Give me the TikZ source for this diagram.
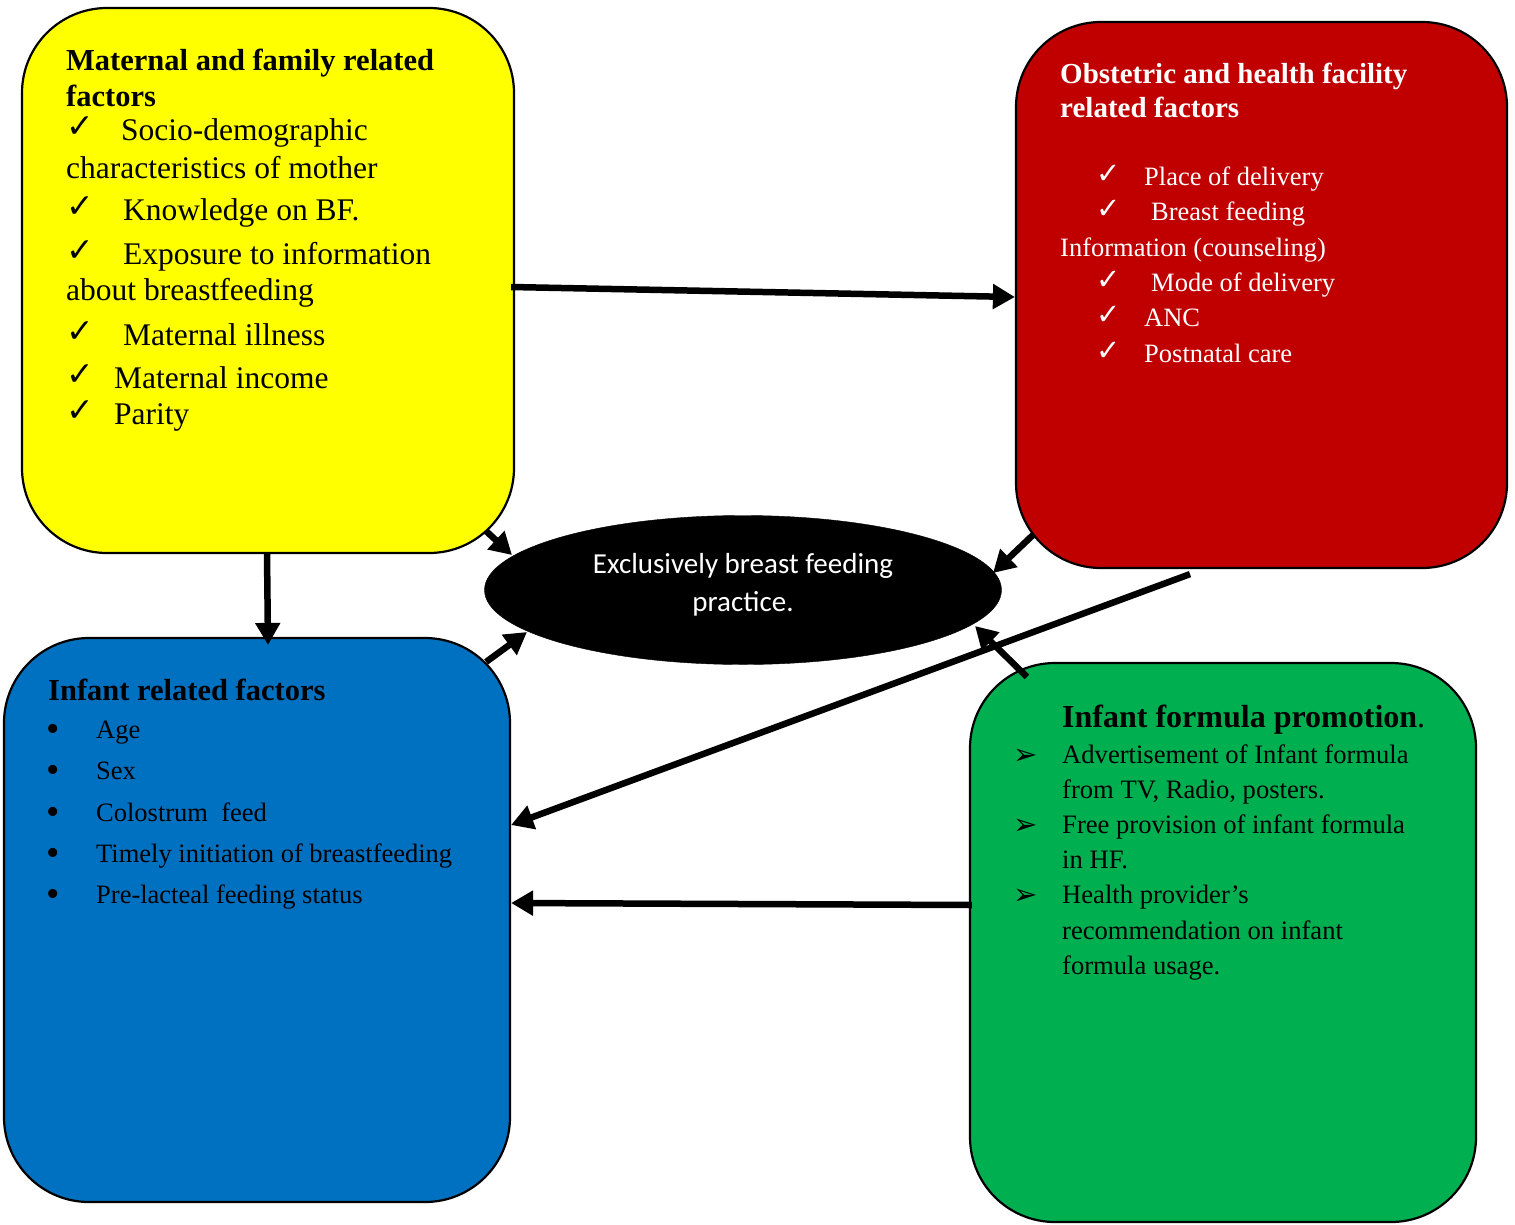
\documentclass[tikz,border=0pt]{standalone}
\usepackage{fontspec}
\setmainfont{Liberation Serif}
\newfontfamily\dejavu{DejaVu Sans}
\newfontfamily\carlito{Carlito}
\usetikzlibrary{arrows.meta,shapes.geometric,calc}
\definecolor{cyel}{HTML}{FFFF00}
\definecolor{cred}{HTML}{C00000}
\definecolor{cblue}{HTML}{0070C0}
\definecolor{cgreen}{HTML}{00B050}
\begin{document}
\begin{tikzpicture}[x=1pt,y=-1pt,
  box/.style={draw=black, line width=2.2pt, rounded corners=85pt, inner sep=0pt, anchor=center},
  arr/.style={line width=6.5pt, -{Triangle[length=22pt,width=24pt]}},
  t/.style={anchor=base west, inner sep=0pt},
  ytitle/.style={t, font=\fontsize{30.5}{36}\selectfont\bfseries},
  ybody/.style={t, font=\fontsize{31.5}{36}\selectfont},
  yck/.style={t, font=\dejavu\bfseries\fontsize{33}{36}\selectfont},
  rtitle/.style={t, text=white, font=\fontsize{29}{34}\selectfont\bfseries},
  rbody/.style={t, text=white, font=\fontsize{26.5}{32}\selectfont},
  rck/.style={t, text=white, font=\dejavu\bfseries\fontsize{29}{32}\selectfont},
  btitle/.style={t, font=\fontsize{30.5}{36}\selectfont\bfseries},
  bbody/.style={t, font=\fontsize{26.5}{32}\selectfont},
  bbul/.style={t, font=\fontsize{38}{40}\selectfont},
  gtitle/.style={t, font=\fontsize{32}{38}\selectfont},
  gbody/.style={t, font=\fontsize{26.6}{32}\selectfont},
  gar/.style={t, font=\dejavu\fontsize{29}{32}\selectfont},
  etext/.style={anchor=base, inner sep=0pt, text=white, font=\carlito\fontsize{29}{34}\selectfont}
]
\useasboundingbox (0,0) rectangle (1515,1224);

% boxes
\node[box, fill=cyel, minimum width=492pt, minimum height=545pt] (yellow) at (268,280.5) {};
\node[box, fill=cred, minimum width=491pt, minimum height=546pt] (red) at (1261.5,295) {};
\node[box, fill=cblue, minimum width=506pt, minimum height=564pt] (blue) at (257,920) {};
\node[box, fill=cgreen, minimum width=506pt, minimum height=559pt] (green) at (1223,942.5) {};
\node[ellipse, fill=black, draw=black, minimum width=517pt, minimum height=149pt, inner sep=0pt] (ell) at (743,590) {};

% ellipse text
\node[etext] (e1) at (743,573) {Exclusively breast feeding};
\node[etext] (e2) at (743,611) {practice.};

% yellow text
\node[ytitle] (y1) at (66,70) {Maternal and family related};
\node[ytitle] (y2) at (66,106) {factors};
\node[yck] (yc1) at (66,137) {✓};
\node[ybody] (yt1) at (121,140) {Socio-demographic};
\node[ybody] (yt1b) at (66,178) {characteristics of mother};
\node[yck] (yc2) at (66,217) {✓};
\node[ybody] (yt2) at (123,220) {Knowledge on BF.};
\node[yck] (yc3) at (66,261) {✓};
\node[ybody] (yt3) at (123,264) {Exposure to information};
\node[ybody] (yt3b) at (66,300) {about breastfeeding};
\node[yck] (yc4) at (66,342) {✓};
\node[ybody] (yt4) at (123,345) {Maternal illness};
\node[yck] (yc5) at (66,385) {✓};
\node[ybody] (yt5) at (114,388) {Maternal income};
\node[yck] (yc6) at (66,421) {✓};
\node[ybody] (yt6) at (114,424) {Parity};

% red text
\node[rtitle] (r1) at (1060,83) {Obstetric and health facility};
\node[rtitle] (r2) at (1060,117) {related factors};
\node[rck] (rc1) at (1096,183) {✓};
\node[rbody] (rt1) at (1144,185) {Place of delivery};
\node[rck] (rc2) at (1096,218) {✓};
\node[rbody] (rt2) at (1151,220) {Breast feeding};
\node[rbody] (rt2b) at (1060,256) {Information (counseling)};
\node[rck] (rc3) at (1096,289) {✓};
\node[rbody] (rt3) at (1151,291) {Mode of delivery};
\node[rck] (rc4) at (1096,324) {✓};
\node[rbody] (rt4) at (1144,326) {ANC};
\node[rck] (rc5) at (1096,360) {✓};
\node[rbody] (rt5) at (1144,362) {Postnatal care};

% blue text
\node[btitle] (b0) at (48,700) {Infant related factors};
\node[bbul] (bb1) at (46,741) {•};
\node[bbody] (bt1) at (96,738) {Age};
\node[bbul] (bb2) at (46,782) {•};
\node[bbody] (bt2) at (96,779) {Sex};
\node[bbul] (bb3) at (46,824) {•};
\node[bbody] (bt3) at (96,821) {Colostrum\ \ feed};
\node[bbul] (bb4) at (46,865) {•};
\node[bbody] (bt4) at (96,862) {Timely initiation of breastfeeding};
\node[bbul] (bb5) at (46,906) {•};
\node[bbody] (bt5) at (96,903) {Pre-lacteal feeding status};

% green text
\node[gtitle] (g0) at (1062,727) {\textbf{Infant formula promotion}.};
\node[gar] (ga1) at (1013,764) {➢};
\node[gbody] (gt1) at (1062,763) {Advertisement of Infant formula};
\node[gbody] (gt1b) at (1062,798) {from TV, Radio, posters.};
\node[gar] (ga2) at (1013,834) {➢};
\node[gbody] (gt2) at (1062,833) {Free provision of infant formula};
\node[gbody] (gt2b) at (1062,868) {in HF.};
\node[gar] (ga3) at (1013,904) {➢};
\node[gbody] (gt3) at (1062,903) {Health provider’s};
\node[gbody] (gt3b) at (1062,939) {recommendation on infant};
\node[gbody] (gt3c) at (1062,974) {formula usage.};

% connectors
\draw[arr] ($(yellow.east)+(-4,6.5)$) -- ($(red.west)+(0,2)$);
\draw[arr] ($(yellow.south)+(-1,0)$) -- ($(blue.north)+(11,8)$);
\draw[arr] ($(yellow.south east)+(-29,-23)$) -- ($(ell.center)+(-231,-35)$);
\draw[arr] ($(red.south west)+(19,-35)$) -- ($(ell.center)+(250,-17)$);
\draw[arr] ($(red.south)+(-71.5,5)$) -- ($(blue.east)+(0,-95)$);
\draw[arr] ($(green.north west)+(58,15)$) -- ($(ell.center)+(232,36)$);
\draw[arr] ($(blue.north east)+(-25,25)$) -- ($(ell.center)+(-216,42)$);
\draw[arr] ($(green.west)+(3,-37.5)$) -- ($(blue.east)+(0,-17)$);
\end{tikzpicture}
\end{document}
